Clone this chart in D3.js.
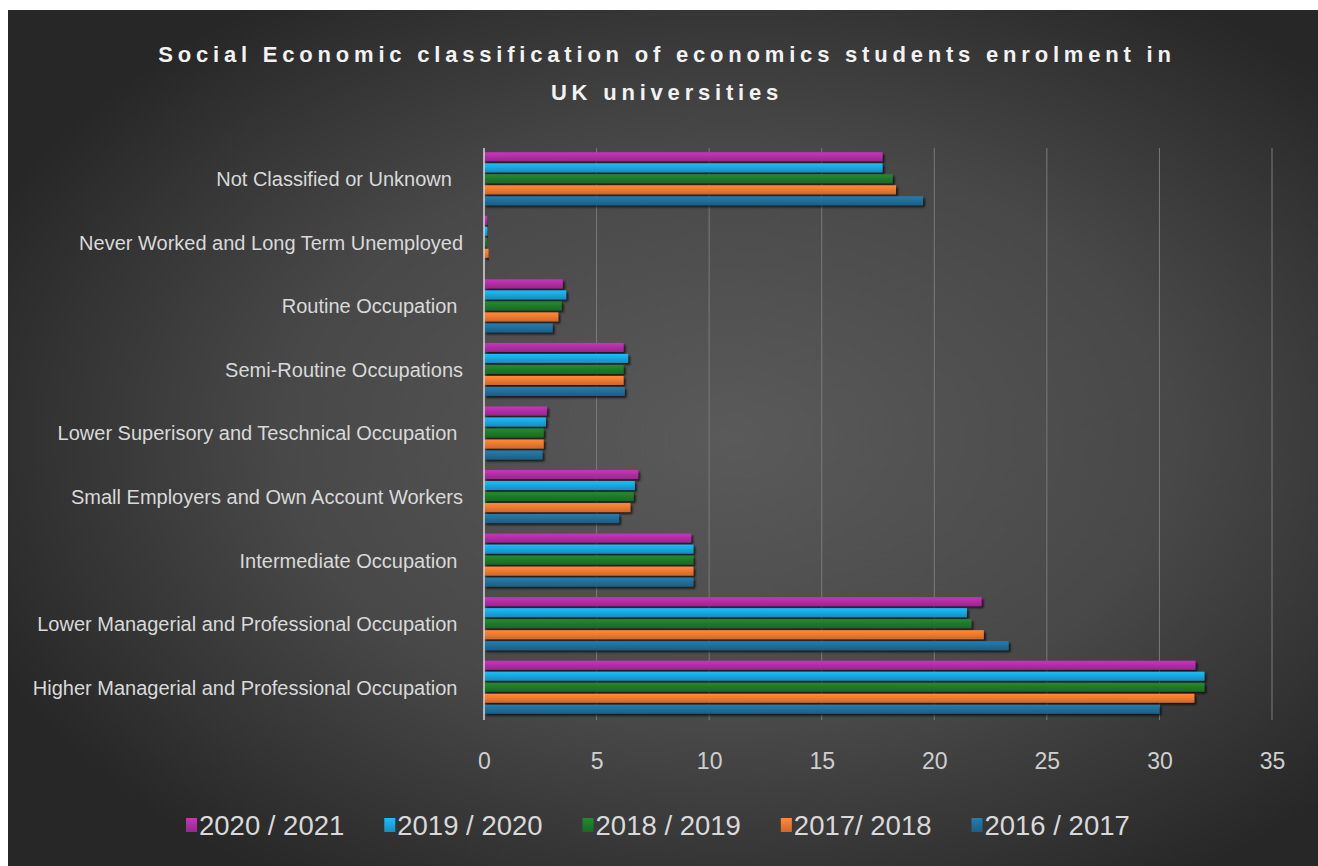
<!DOCTYPE html>
<html>
<head>
<meta charset="utf-8">
<script src="https://cdn.jsdelivr.net/npm/d3@7"></script>
<style>
  html, body { margin: 0; padding: 0; background: #ffffff; }
  svg { display: block; }
  text { white-space: pre; }
</style>
</head>
<body>
<svg id="chart" width="1318" height="866"></svg>
<script>
// Occupation classes, listed top to bottom
const categories = [
  "Not Classified or Unknown  ",
  "Never Worked and Long Term Unemployed",
  "Routine Occupation ",
  "Semi-Routine Occupations",
  "Lower Superisory and Teschnical Occupation ",
  "Small Employers and Own Account Workers",
  "Intermediate Occupation ",
  "Lower Managerial and Professional Occupation ",
  "Higher Managerial and Professional Occupation "
];

// Academic years (legend order)
const years = ["2020 / 2021", "2019 / 2020", "2018 / 2019", "2017/ 2018", "2016 / 2017"];

// Share of enrolment (%) per occupation class, one array per year
const y2020_21 = [17.7, 0.15, 3.5, 6.2, 2.8, 6.85, 9.2, 22.1, 31.6];
const y2019_20 = [17.7, 0.15, 3.65, 6.4, 2.75, 6.7, 9.3, 21.45, 32.0];
const y2018_19 = [18.15, 0.12, 3.45, 6.2, 2.65, 6.65, 9.3, 21.65, 32.0];
const y2017_18 = [18.3, 0.2, 3.3, 6.2, 2.65, 6.5, 9.3, 22.2, 31.55];
const y2016_17 = [19.5, 0.03, 3.05, 6.25, 2.6, 6.0, 9.3, 23.3, 30.0];

const xTicks = [0, 5, 10, 15, 20, 25, 30, 35];

const seriesValues = [y2020_21, y2019_20, y2018_19, y2017_18, y2016_17];
const seriesColors = ["#b22ea6", "#1aa7e0", "#1f7b2b", "#ef7a30", "#216f9b"];

const FONT = "'Liberation Sans', Arial, sans-serif";

const svg = d3.select("#chart");
const W = 1318, H = 866;
const defs = svg.append("defs");

// Dark radial backdrop
const bg = defs.append("radialGradient").attr("id", "bgGrad")
  .attr("cx", 0.55).attr("cy", 0.5).attr("r", 0.62).attr("fx", 0.55).attr("fy", 0.5);
bg.append("stop").attr("offset", "0%").attr("stop-color", "#5a5a5a");
bg.append("stop").attr("offset", "55%").attr("stop-color", "#484848");
bg.append("stop").attr("offset", "100%").attr("stop-color", "#272727");

svg.append("rect").attr("x", 8).attr("y", 10).attr("width", W - 8).attr("height", H - 10)
  .attr("fill", "url(#bgGrad)");

// Soft shadow under each bar
const shadow = defs.append("filter").attr("id", "barShadow")
  .attr("x", "-5%").attr("y", "-50%").attr("width", "115%").attr("height", "250%");
shadow.append("feDropShadow").attr("dx", 2).attr("dy", 2).attr("stdDeviation", 1.3)
  .attr("flood-color", "#000").attr("flood-opacity", 0.7);

// Subtle vertical shading per series colour
seriesColors.forEach((c, i) => {
  const g = defs.append("linearGradient").attr("id", "barGrad" + i)
    .attr("x1", 0).attr("y1", 0).attr("x2", 0).attr("y2", 1);
  const col = d3.color(c);
  g.append("stop").attr("offset", "0%").attr("stop-color", col.brighter(0.35));
  g.append("stop").attr("offset", "45%").attr("stop-color", col);
  g.append("stop").attr("offset", "100%").attr("stop-color", col.darker(0.45));
});

// Scales
const x = d3.scaleLinear().domain([0, 35]).range([484, 1272]);
const y = d3.scaleBand().domain(categories).range([148, 720])
  .paddingInner(0.134).paddingOuter(0.067);
const ySub = d3.scaleBand().domain(d3.range(years.length)).range([0, y.bandwidth()]);

// Title
const title = svg.append("text")
  .attr("text-anchor", "middle")
  .attr("fill", "#f2f2f2")
  .style("font-family", FONT)
  .style("font-weight", "bold")
  .style("font-size", "22px")
  .style("letter-spacing", "4.8px");
title.append("tspan").attr("x", 667).attr("y", 62)
  .text("Social Economic classification of economics students enrolment in");
title.append("tspan").attr("x", 667).attr("y", 100).text("UK universities");

// Vertical gridlines
svg.append("g").selectAll("line").data(xTicks.slice(1)).join("line")
  .attr("x1", d => x(d)).attr("x2", d => x(d))
  .attr("y1", 148).attr("y2", 720)
  .attr("stroke", "#7a7a7a").attr("stroke-width", 1);

// Bars
const groups = svg.append("g").selectAll("g").data(categories).join("g")
  .attr("transform", d => `translate(0,${y(d)})`);

groups.each(function (cat, ci) {
  d3.select(this).selectAll("rect")
    .data(seriesValues.map((vals, si) => ({ si, v: vals[ci] })))
    .join("rect")
    .attr("x", x(0))
    .attr("y", d => ySub(d.si))
    .attr("width", d => Math.max(0, x(d.v) - x(0)))
    .attr("height", ySub.bandwidth() - 2)
    .attr("fill", d => `url(#barGrad${d.si})`)
    .attr("filter", "url(#barShadow)");
});

// Category axis line
svg.append("line")
  .attr("x1", x(0)).attr("x2", x(0)).attr("y1", 148).attr("y2", 720)
  .attr("stroke", "#d9d9d9").attr("stroke-width", 1.5);

// Category labels
const yAxis = d3.axisLeft(y).tickSize(0).tickPadding(21);
const yg = svg.append("g").attr("transform", `translate(${x(0)},0)`).call(yAxis);
yg.select(".domain").remove();
yg.selectAll("text")
  .attr("fill", "#d9d9d9")
  .style("font-family", FONT)
  .style("font-size", "20px");

// Value axis labels
const xAxis = d3.axisBottom(x).tickValues(xTicks).tickSize(0).tickPadding(0).tickFormat(d3.format("d"));
const xg = svg.append("g").attr("transform", `translate(0,753)`).call(xAxis);
xg.select(".domain").remove();
xg.selectAll("text")
  .attr("fill", "#cfcfcf")
  .style("font-family", FONT)
  .style("font-size", "23px");

// Legend
const legend = svg.append("g").attr("transform", "translate(186,825)");
let lx = 0;
years.forEach((yr, i) => {
  const item = legend.append("g").attr("transform", `translate(${lx},0)`);
  item.append("rect").attr("x", 0).attr("y", -7).attr("width", 11).attr("height", 14)
    .attr("fill", `url(#barGrad${i})`);
  const t = item.append("text").attr("x", 13).attr("y", 0).attr("dy", "0.36em")
    .attr("fill", "#d9d9d9")
    .style("font-family", FONT)
    .style("font-size", "27.5px")
    .text(yr);
  lx += 13 + t.node().getComputedTextLength() + 40;
});
</script>
</body>
</html>
